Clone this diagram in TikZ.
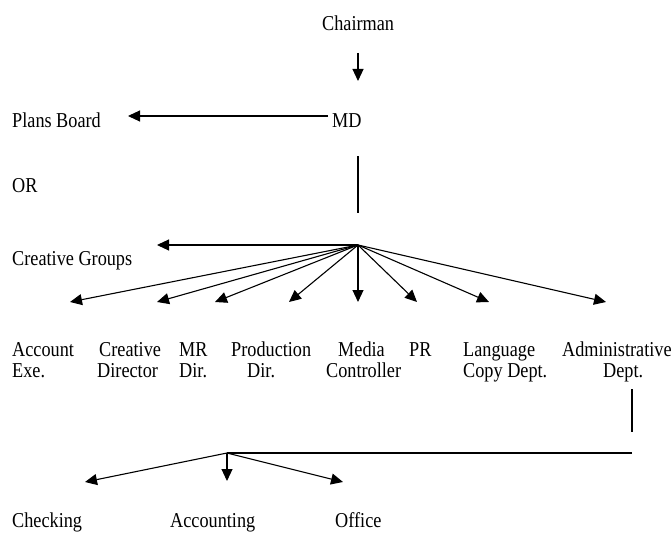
\documentclass[tikz,border=0pt]{standalone}
\usepackage{fontspec}
\setmainfont{Liberation Serif}[FakeStretch=0.86]
\usetikzlibrary{arrows.meta}

\tikzset{
  lbl/.style={anchor=base west, inner sep=0pt, font=\fontsize{21.2}{24}\selectfont},
  arr/.style={-{Triangle[length=12pt,width=11pt]}, line width=1.1pt},
  ln/.style={line width=1.1pt}
}

\begin{document}
\begin{tikzpicture}[x=1pt,y=-1pt]
  \useasboundingbox (0,0) rectangle (671,532);
  % top of the chart
  \node[lbl] (chair) at (322,31) {Chairman};
  \node[lbl] (md) at (332,128) {MD};
  \node[lbl] (plans) at (12,128) {Plans Board};
  \node[lbl] (or) at (12,192) {OR};
  \node[lbl] (cgroups) at (12,265) {Creative Groups};
  \coordinate (c1) at (358,53);
  \coordinate (c2) at (358,81);
  \coordinate (m1) at (328,116);
  \coordinate (p1) at (128,116);
  \coordinate (v1) at (358,156);
  \coordinate (v2) at (358,213);
  \coordinate (hub) at (358,245);
  \coordinate (g1) at (157,245);
  \draw[arr] (c1) -- (c2);
  \draw[arr] (m1) -- (p1);
  \draw[ln] (v1) -- (v2);
  \draw[arr] (hub) -- (g1);
  % departments
  \foreach \x/\t [count=\i] in {12/Account, 99/Creative, 179/MR, 231/Production,
      338/Media, 409/PR, 463/Language, 562/Administrative}
    \node[lbl] (dept\i) at (\x,356) {\t};
  \foreach \x/\t [count=\i] in {12/Exe., 97/Director, 179/Dir., 247/Dir.,
      326/Controller, 463/Copy Dept., 603/Dept.}
    \node[lbl] (deptb\i) at (\x,377) {\t};
  \foreach \x [count=\i] in {70,157,215,289,358,417,489,606} {
    \coordinate (tip\i) at (\x,302);
    \draw[arr] (hub) -- (tip\i);
  }
  % administrative dept.
  \coordinate (a1) at (632,389);
  \coordinate (a2) at (632,432);
  \coordinate (a3) at (632,453);
  \coordinate (sub) at (227,453);
  \draw[ln] (a1) -- (a2);
  \draw[ln] (a3) -- (sub);
  \node[lbl] (check) at (12,527) {Checking};
  \node[lbl] (accnt) at (170,527) {Accounting};
  \node[lbl] (office) at (335,527) {Office};
  \coordinate (s1) at (85,482);
  \coordinate (s2) at (227,481);
  \coordinate (s3) at (343,482);
  \draw[arr] (sub) -- (s1);
  \draw[arr] (sub) -- (s2);
  \draw[arr] (sub) -- (s3);
\end{tikzpicture}
\end{document}
